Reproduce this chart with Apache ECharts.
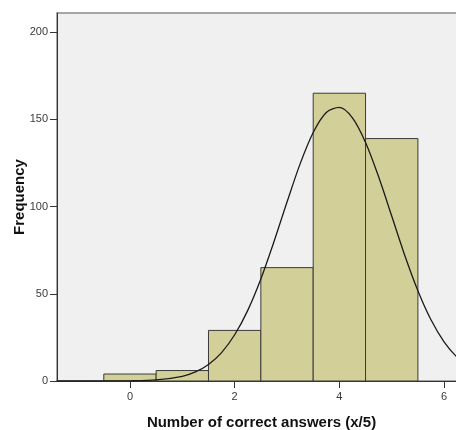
<!DOCTYPE html>
<html>
<head>
<meta charset="utf-8">
<script src="https://cdn.jsdelivr.net/npm/echarts@6/dist/echarts.min.js"></script>
<style>html,body{margin:0;padding:0;background:#fff;}#c{width:456px;height:430px;}</style>
</head>
<body>
<div id="c"></div>
<script>
// Histogram bins (center value) and frequencies
const binCenters = [0, 1, 2, 3, 4, 5];
const frequencies = [4, 6, 29, 65, 165, 139];
// Normal curve
const curveX = [-1.4, -0.5, 0, 0.5, 1, 1.25, 1.5, 1.75, 2, 2.25, 2.5, 2.75, 3, 3.25, 3.5, 3.75, 4, 4.25, 4.5, 4.75, 5, 5.25, 5.5, 5.75, 6, 6.25, 6.5];
const curveY = [0, 0.02, 0.1, 0.6, 2.7, 5.2, 9.5, 16.3, 26.5, 40.5, 58.5, 79.8, 102.6, 124.5, 142.5, 154, 156.9, 150.9, 136.8, 117.1, 94.6, 72, 51.8, 35.1, 22.5, 13.6, 7.8];
const xTicks = [0, 2, 4, 6];
const yTicks = [0, 50, 100, 150, 200];

const chart = echarts.init(document.getElementById('c'));
const font = '"Liberation Sans", Arial, sans-serif';
chart.setOption({
  animation: false,
  backgroundColor: '#ffffff',
  grid: { left: 57, right: -10, top: 13, bottom: 49, containLabel: false, outerBoundsMode: 'none', show: true, backgroundColor: '#f0f0f0', borderColor: '#8a8a8a', borderWidth: 1.5 },
  xAxis: {
    type: 'value', min: -1.394, max: 6.419,
    name: 'Number of correct answers (x/5)', nameLocation: 'middle', nameGap: 34, nameMoveOverlap: false,
    nameTextStyle: { fontFamily: font, fontSize: 15, fontWeight: 'bold', color: '#111' },
    axisLine: { show: true, onZero: false, lineStyle: { color: '#333', width: 1 } },
    axisTick: { show: true, inside: false, length: 7, customValues: xTicks, lineStyle: { color: '#333' } },
    axisLabel: { customValues: xTicks, margin: 10, fontFamily: font, fontSize: 11, color: '#3a3a3a' },
    splitLine: { show: false }
  },
  yAxis: {
    type: 'value', min: 0, max: 211,
    name: 'Frequency', nameLocation: 'middle', nameGap: 30, nameMoveOverlap: false,
    nameTextStyle: { fontFamily: font, fontSize: 15, fontWeight: 'bold', color: '#111' },
    axisLine: { show: true, onZero: false, lineStyle: { color: '#333', width: 1 } },
    axisTick: { show: true, inside: false, length: 7, customValues: yTicks, lineStyle: { color: '#333' } },
    axisLabel: { customValues: yTicks, margin: 9, fontFamily: font, fontSize: 11, color: '#3a3a3a' },
    splitLine: { show: false }
  },
  series: [
    {
      type: 'custom',
      data: binCenters.map((c, i) => [c, frequencies[i]]),
      renderItem: function (params, api) {
        const c = api.value(0), f = api.value(1);
        const p1 = api.coord([c - 0.5, f]);
        const p2 = api.coord([c + 0.5, 0]);
        return {
          type: 'rect',
          shape: { x: p1[0], y: p1[1], width: p2[0] - p1[0], height: p2[1] - p1[1] },
          style: { fill: '#d3cf98', stroke: '#3a3a3a', lineWidth: 1 }
        };
      },
      z: 2
    },
    {
      type: 'line',
      data: curveX.map((x, i) => [x, curveY[i]]),
      smooth: 0.3,
      showSymbol: false,
      lineStyle: { color: '#1a1a1a', width: 1.3 },
      z: 3
    }
  ]
});
</script>
</body>
</html>
